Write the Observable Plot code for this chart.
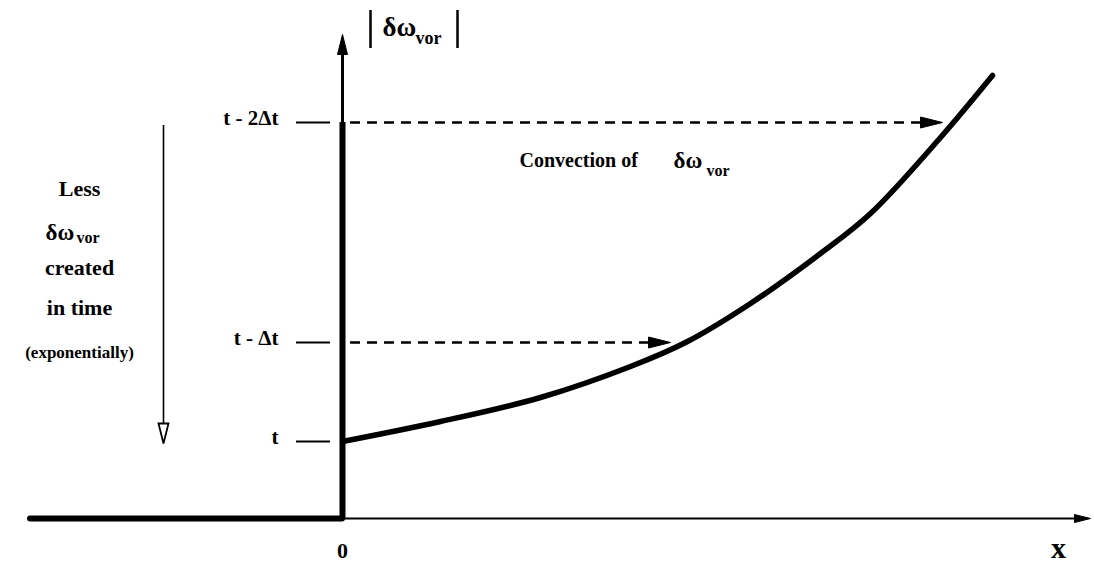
<!DOCTYPE html>
<html>
<head>
<meta charset="utf-8">
<script src="https://cdn.jsdelivr.net/npm/d3@7"></script>
<script src="https://cdn.jsdelivr.net/npm/@observablehq/plot@0.6"></script>
<style>
  body { margin: 0; background: #fff; }
  #chart svg { display: block; }
</style>
</head>
<body>
<div id="chart"></div>
<script>
// Time levels marked on the vertical axis (|δω_vor| created at each time)
const levelLabels = ["t - 2Δt", "t - Δt", "t"];
const levelValues = [3.96, 1.76, 0.77];

// Profile of |δω_vor| along x (grows exponentially downstream)
const curveX = [0, 0.98, 1.98, 2.88, 3.45, 4.08, 4.78, 5.28, 5.98, 6.50];
const curveY = [0.77, 0.97, 1.21, 1.52, 1.77, 2.15, 2.65, 3.05, 3.81, 4.43];

// Convection arrows: level they start from and how far downstream they reach
const convectionLevels = [3.96, 1.76];
const convectionReach = [6.00, 3.28];

// Axis extents
const xLeft = -3.12, xRight = 7.48;
const yTop = 4.84, yThickTop = 3.96;

// Arrow head drawn with its tip at the origin, pointing up
const arrowHead = {
  draw(ctx, size) {
    const r = Math.sqrt(size / Math.PI);
    ctx.moveTo(0, 0);
    ctx.lineTo(r * 0.5, r * 2);
    ctx.lineTo(-r * 0.5, r * 2);
    ctx.closePath();
  }
};

const curve = curveX.map((x, i) => ({x, y: curveY[i]}));
const levels = levelLabels.map((label, i) => ({label, y: levelValues[i]}));
const convection = convectionLevels.map((y, i) => ({y, x: convectionReach[i]}));

const serif = "Liberation Serif, Times New Roman, serif";

// Label pieces (δω with a "vor" subscript set as a separate smaller run)
const symbolLabels = [
  {x: 0.40, y: 4.91, text: "δω", size: 27},
  {x: 1.77, y: 3.58, text: "Convection of", size: 20},
  {x: 3.31, y: 3.58, text: "δω", size: 23},
  {x: -2.97, y: 2.86, text: "δω", size: 23}
];
const subscriptLabels = [
  {x: 0.73, y: 4.80, text: "vor", size: 18},
  {x: 3.64, y: 3.48, text: "vor", size: 16},
  {x: -2.66, y: 2.81, text: "vor", size: 16}
];
const noteLines = [
  {y: 3.30, text: "Less", size: 22},
  {y: 2.51, text: "created", size: 22},
  {y: 2.11, text: "in time", size: 22},
  {y: 1.66, text: "(exponentially)", size: 17}
];

const chart = Plot.plot({
  width: 1094,
  height: 566,
  margin: 0,
  x: {domain: [-3.42, 7.52], axis: null},
  y: {domain: [-0.48, 5.18], axis: null},
  style: {background: "#fff", color: "#000"},
  marks: [
    // thin x axis and its arrow head
    Plot.ruleY([0], {x1: 0, x2: xRight - 0.1, stroke: "#000", strokeWidth: 2.2}),
    Plot.dot([{x: xRight, y: 0}], {x: "x", y: "y", symbol: arrowHead, r: 8, rotate: 90, fill: "#000", stroke: "#000", strokeWidth: 1}),
    // thick baseline left of 0
    Plot.ruleY([0], {x1: xLeft, x2: 0, stroke: "#000", strokeWidth: 6, strokeLinecap: "round"}),
    // vertical axis: thick part up to t - 2Δt, thin part above with arrow
    Plot.ruleX([0], {y1: 0, y2: yThickTop, stroke: "#000", strokeWidth: 6}),
    Plot.ruleX([0], {y1: yThickTop, y2: yTop - 0.12, stroke: "#000", strokeWidth: 3}),
    Plot.dot([{x: 0, y: yTop}], {x: "x", y: "y", symbol: arrowHead, r: 10, fill: "#000", stroke: "#000", strokeWidth: 1}),
    // level tick marks
    Plot.ruleY(levels, {y: "y", x1: -0.46, x2: -0.12, stroke: "#000", strokeWidth: 2}),
    Plot.text(levels, {x: -0.64, y: "y", text: "label", textAnchor: "end", dy: -4, fontSize: 21, fontWeight: "bold", fontFamily: serif}),
    // convection dashed arrows
    Plot.ruleY(convection, {y: "y", x1: 0.08, x2: d => d.x - 0.15, stroke: "#000", strokeWidth: 2.5, strokeDasharray: "10,7"}),
    Plot.dot(convection, {x: "x", y: "y", symbol: arrowHead, r: 11, rotate: 90, fill: "#000", stroke: "#000", strokeWidth: 1}),
    // |δω_vor| profile
    Plot.line(curve, {x: "x", y: "y", curve: "catmull-rom", stroke: "#000", strokeWidth: 5.5, strokeLinecap: "round"}),
    // "less created in time" arrow
    Plot.ruleX([-1.79], {y1: 3.93, y2: 0.95, stroke: "#000", strokeWidth: 1.6}),
    Plot.dot([{x: -1.79, y: 0.75}], {x: "x", y: "y", symbol: arrowHead, r: 10, rotate: 180, fill: "#fff", stroke: "#000", strokeWidth: 1.8}),
    // |δω_vor| axis title with bars
    Plot.ruleX([0.28, 1.15], {y1: 4.70, y2: 5.08, stroke: "#000", strokeWidth: 2.5}),
    Plot.text(symbolLabels, {x: "x", y: "y", text: "text", fontSize: d => d.size, textAnchor: "start", fontWeight: "bold", fontFamily: serif}),
    Plot.text(subscriptLabels, {x: "x", y: "y", text: "text", fontSize: d => d.size, textAnchor: "start", fontWeight: "bold", fontFamily: serif}),
    Plot.text(noteLines, {x: -2.63, y: "y", text: "text", fontSize: d => d.size, fontWeight: "bold", fontFamily: serif}),
    // axis labels
    Plot.text(["0"], {x: 0, y: -0.32, text: d => d, fontSize: 22, fontWeight: "bold", fontFamily: serif}),
    Plot.text(["x"], {x: 7.16, y: -0.30, text: d => d, fontSize: 30, fontWeight: "bold", fontFamily: serif})
  ]
});

document.getElementById("chart").append(chart);
</script>
</body>
</html>
